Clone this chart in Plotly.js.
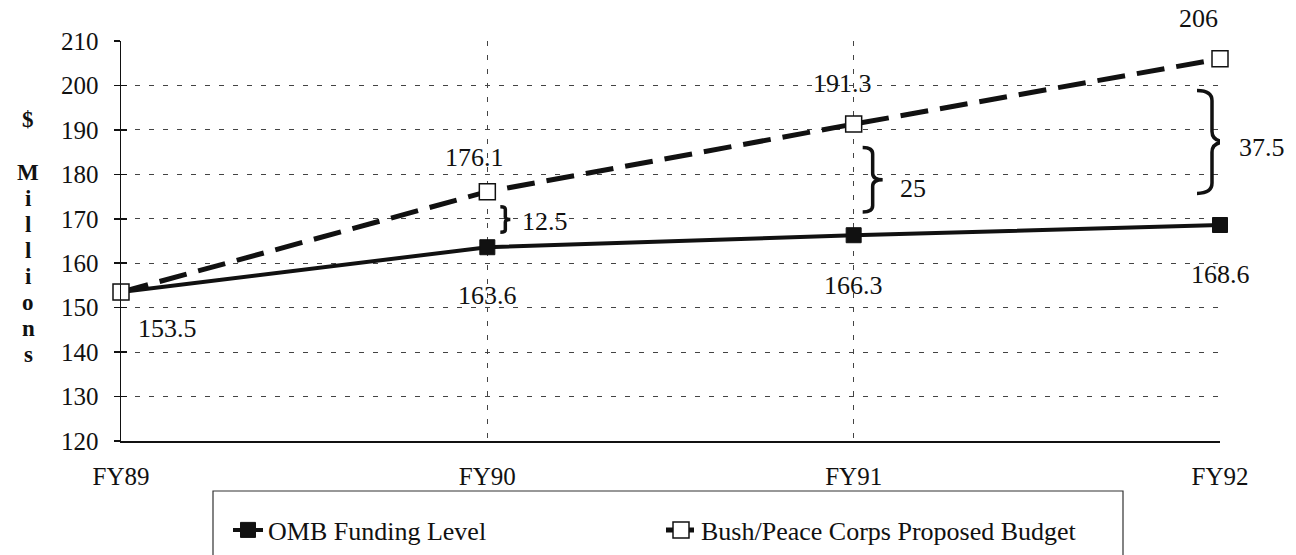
<!DOCTYPE html>
<html><head><meta charset="utf-8">
<script src="https://cdn.plot.ly/plotly-3.0.1.min.js"></script>
<style>html,body{margin:0;padding:0;background:#fff}#chart{width:1296px;height:555px}</style>
</head><body><div id="chart"></div>
<script>
// ---- data ----
const categories = ['FY89', 'FY90', 'FY91', 'FY92'];
const ombValues = [153.5, 163.6, 166.3, 168.6];
const bushValues = [153.5, 176.1, 191.3, 206];
const gapLabels = ['', '12.5', '25', '37.5'];
const yTickValues = [120, 130, 140, 150, 160, 170, 180, 190, 200, 210];
const seriesNames = ['OMB Funding Level', 'Bush/Peace Corps Proposed Budget'];
const yTitleLetters = ['$', 'M', 'i', 'l', 'l', 'i', 'o', 'n', 's'];

// ---- styling ----
const FONT = "'Liberation Serif', 'Times New Roman', Times, serif";
const INK = '#111';
const xIdx = categories.map((_, i) => i);

const traces = [
  { x: [0], y: [null], yaxis: 'y2', mode: 'markers', showlegend: false, hoverinfo: 'skip', marker: {opacity: 0} },
  { x: xIdx, y: ombValues, name: seriesNames[0], mode: 'lines+markers', cliponaxis: false,
    line: {color: INK, width: 4}, marker: {symbol: 'square', size: 15, color: INK, line: {color: INK, width: 1}} },
  { x: xIdx, y: bushValues, name: seriesNames[1], mode: 'lines+markers', cliponaxis: false,
    line: {color: INK, width: 5, dash: '28px,12px'}, marker: {symbol: 'square', size: 16, color: '#fff', line: {color: INK, width: 1.5}} }
];

// data labels (offsets in px)
const ombLabelShift = [[46, -36], [0, -48], [0, -50], [0, -49]];
const bushLabelShift = [null, [-13, 34], [-11, 41], [-22, 40]];
const annotations = [];
ombValues.forEach((v, i) => annotations.push({x: i, y: v, text: String(v), showarrow: false,
  xshift: ombLabelShift[i][0], yshift: ombLabelShift[i][1], font: {family: FONT, size: 26, color: INK}}));
bushValues.forEach((v, i) => { if (bushLabelShift[i]) annotations.push({x: i, y: v, text: String(v), showarrow: false,
  xshift: bushLabelShift[i][0], yshift: bushLabelShift[i][1], font: {family: FONT, size: 26, color: INK}}); });

// braces between the two series
const braceGeom = [null, {x0: 13, w: 10, lx: 33, ly: -2}, {x0: 9, w: 20, lx: 44, ly: -9}, {x0: -23, w: 30, lx: 17, ly: -6}];
const shapes = [];
function bracePath(x0, w, T, B) {
  const xm = x0 + w / 2, xt = x0 + w, M = (T + B) / 2, d = (T - B) * 0.1;
  return `M${x0},${T} Q${xm},${T} ${xm},${T - d} L${xm},${M + d} Q${xm},${M} ${xt},${M} ` +
         `Q${xm},${M} ${xm},${M - d} L${xm},${B + d} Q${xm},${B} ${x0},${B}`;
}
categories.forEach((c, i) => {
  const g = braceGeom[i];
  if (!g) return;
  const diff = bushValues[i] - ombValues[i];
  const inset = 0.15 * diff + 1.5;
  const T = bushValues[i] - inset, B = ombValues[i] + inset;
  shapes.push({type: 'path', xref: 'x', yref: 'y', xsizemode: 'pixel', xanchor: i,
    path: bracePath(g.x0, g.w, T, B), line: {color: INK, width: 3.5}});
  annotations.push({x: i, y: (T + B) / 2, text: gapLabels[i], showarrow: false, xanchor: 'left',
    xshift: g.lx, yshift: g.ly, font: {family: FONT, size: 26, color: INK}});
});

// legend frame
shapes.push({type: 'rect', xref: 'paper', yref: 'paper', x0: (213 - 121) / 1099, x1: (1123 - 121) / 1099,
  y0: -0.125, y1: -0.4, line: {color: '#333', width: 1.2}, fillcolor: 'rgba(0,0,0,0)'});

// y-axis title, stacked letters (pixel rows from the top of the plot area)
const titleRows = [78, 131, 157, 183, 209, 235, 261, 287, 313];
yTitleLetters.forEach((ch, k) => annotations.push({xref: 'paper', yref: 'paper',
  x: (28 - 121) / 1099, y: 1 - titleRows[k] / 400, xanchor: 'center', yanchor: 'middle', showarrow: false,
  text: '<b>' + ch + '</b>', font: {family: FONT, size: 23, color: INK}}));

const gridStyle = {showgrid: true, gridcolor: '#444', gridwidth: 1, griddash: '5px,9px'};
const layout = {
  width: 1296, height: 555,
  margin: {l: 121, r: 76, t: 41, b: 114, autoexpand: false},
  paper_bgcolor: '#fff', plot_bgcolor: '#fff',
  font: {family: FONT, color: INK},
  showlegend: true,
  xaxis: Object.assign({range: [0, 3], tickvals: xIdx, ticktext: categories, zeroline: false,
    showline: true, linecolor: INK, linewidth: 1.5, ticks: '', ticklabelstandoff: 12,
    tickfont: {family: FONT, size: 25, color: INK}}, gridStyle),
  yaxis: Object.assign({range: [120, 210], tickvals: yTickValues, zeroline: false,
    showline: true, linecolor: INK, linewidth: 1.5, ticks: 'outside', ticklen: 6, tickwidth: 1.5, tickcolor: INK,
    ticklabelstandoff: 10, tickfont: {family: FONT, size: 25, color: INK}}, gridStyle),
  yaxis2: {overlaying: 'y', side: 'left', range: [120, 210], tickvals: yTickValues, showticklabels: false,
    ticks: 'inside', ticklen: 6, tickwidth: 1.5, tickcolor: INK, showgrid: false, zeroline: false, showline: false},
  legend: {orientation: 'h', xref: 'container', yref: 'container', x: 228 / 1296, y: 1 - 530 / 555,
    xanchor: 'left', yanchor: 'middle', font: {family: FONT, size: 26, color: INK}, bgcolor: 'rgba(0,0,0,0)',
    borderwidth: 0, entrywidth: 388, entrywidthmode: 'pixels', itemwidth: 30},
  shapes: shapes,
  annotations: annotations
};
Plotly.newPlot('chart', traces, layout, {displayModeBar: false, staticPlot: true});
</script></body></html>
